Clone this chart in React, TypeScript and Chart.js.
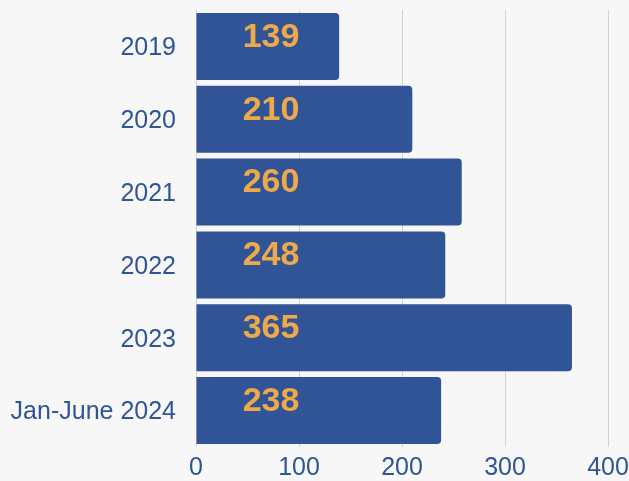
import React, { useEffect, useRef } from "react";
import { Chart, registerables } from "chart.js";

Chart.register(...registerables);

const categories = ["2019", "2020", "2021", "2022", "2023", "Jan-June 2024"];
// bar lengths as drawn
const barValues = [139, 210, 258, 242, 365, 238];
// value labels as printed on the bars
const labelTexts = ["139", "210", "260", "248", "365", "238"];
const xTicks = [0, 100, 200, 300, 400];

const BAR_COLOR = "#305496";
const LABEL_COLOR = "#eda94a";
const TICK_COLOR = "#2f5597";
const GRID_COLOR = "#c9d3e5";
const FONT = "'Liberation Sans', Arial, sans-serif";

const labelPlugin = {
  id: "valueLabels",
  afterDatasetsDraw(chart: any) {
    const ctx = chart.ctx;
    const meta = chart.getDatasetMeta(0);
    const left = chart.chartArea.left;
    ctx.save();
    ctx.fillStyle = LABEL_COLOR;
    ctx.font = "bold 34px " + FONT;
    ctx.textAlign = "center";
    ctx.textBaseline = "middle";
    meta.data.forEach((bar: any, i: number) => {
      ctx.fillText(labelTexts[i], left + 75, bar.y - 9);
    });
    ctx.restore();
  },
};

const zeroPad = (s: any) => {
  s.paddingTop = 0;
  s.paddingBottom = 0;
  s.paddingLeft = 0;
  s.paddingRight = 0;
};

export default function App() {
  const ref = useRef<HTMLCanvasElement>(null);
  useEffect(() => {
    document.body.style.margin = "0";
    document.body.style.background = "#f7f7f7";
    const chart = new Chart(ref.current!, {
      type: "bar",
      data: {
        labels: categories,
        datasets: [
          {
            data: barValues,
            backgroundColor: BAR_COLOR,
            borderRadius: 4,
            barPercentage: 0.92,
            categoryPercentage: 1,
          },
        ],
      },
      options: {
        indexAxis: "y",
        animation: false,
        responsive: false,
        layout: { autoPadding: false, padding: { top: 10, right: 21, left: 0, bottom: 0 } },
        plugins: { legend: { display: false }, tooltip: { enabled: false } },
        scales: {
          x: {
            min: 0,
            max: 400,
            afterBuildTicks: (s: any) => {
              s.ticks = xTicks.map((v) => ({ value: v }));
            },
            afterFit: (s: any) => {
              s.height = 34;
              zeroPad(s);
            },
            grid: { color: GRID_COLOR, drawTicks: false },
            border: { display: false },
            ticks: {
              color: TICK_COLOR,
              padding: 6,
              font: { family: FONT, size: 25 },
            },
          },
          y: {
            afterFit: (s: any) => {
              s.width = 196;
              zeroPad(s);
            },
            grid: { display: false },
            border: { display: false },
            ticks: {
              color: TICK_COLOR,
              padding: 12,
              labelOffset: 2,
              font: { family: FONT, size: 25 },
            },
          },
        },
      },
      plugins: [labelPlugin],
    });
    return () => chart.destroy();
  }, []);
  return (
    <div style={{ width: 629, height: 481, background: "#f7f7f7" }}>
      <canvas ref={ref} width={629} height={481} style={{ display: "block" }} />
    </div>
  );
}
